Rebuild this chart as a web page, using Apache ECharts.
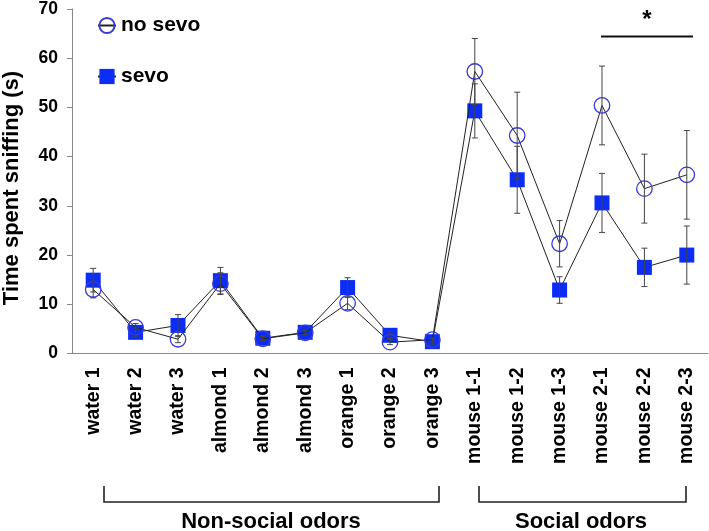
<!DOCTYPE html>
<html>
<head>
<meta charset="utf-8">
<script src="https://cdn.jsdelivr.net/npm/echarts@6/dist/echarts.min.js"></script>
<style>
html,body{margin:0;padding:0;background:#fff;}
#chart{width:709px;height:531px;}
</style>
</head>
<body>
<div id="chart"></div>
<script>
const categories = ['water 1','water 2','water 3','almond 1','almond 2','almond 3','orange 1','orange 2','orange 3','mouse 1-1','mouse 1-2','mouse 1-3','mouse 2-1','mouse 2-2','mouse 2-3'];
const noSevo    = [13.0, 5.3, 2.9, 14.2, 3.0, 4.2, 10.2, 2.3, 2.8, 57.3, 44.3, 22.3, 50.4, 33.5, 36.3];
const noSevoErr = [1.7, 0.8, 0.7, 2.2, 0.4, 0.4, 1.3, 0.5, 0.4, 6.7, 8.8, 4.7, 8.0, 7.0, 9.0];
const sevo      = [14.9, 4.3, 5.7, 14.8, 3.1, 4.3, 13.4, 3.7, 2.4, 49.3, 35.3, 12.9, 30.6, 17.5, 20.0];
const sevoErr   = [2.4, 0.9, 2.2, 2.7, 0.5, 0.5, 2.0, 0.7, 0.5, 5.5, 6.8, 2.7, 6.0, 3.9, 5.9];
const yTicks = [0, 10, 20, 30, 40, 50, 60, 70];

const FONT = '"Liberation Sans", Arial, Helvetica, sans-serif';

function errData(vals, errs) {
  return vals.map((v, i) => [i, v - errs[i], v + errs[i]]);
}
function errRender(params, api) {
  const i = api.value(0);
  const lo = api.coord([i, api.value(1)]);
  const hi = api.coord([i, api.value(2)]);
  const h = 3;
  const st = { stroke: '#444', lineWidth: 1 };
  return {
    type: 'group',
    children: [
      { type: 'line', shape: { x1: lo[0], y1: lo[1], x2: hi[0], y2: hi[1] }, style: st },
      { type: 'line', shape: { x1: hi[0] - h, y1: hi[1], x2: hi[0] + h, y2: hi[1] }, style: st },
      { type: 'line', shape: { x1: lo[0] - h, y1: lo[1], x2: lo[0] + h, y2: lo[1] }, style: st }
    ]
  };
}

const chart = echarts.init(document.getElementById('chart'), null, { renderer: 'canvas' });
chart.setOption({
  animation: false,
  backgroundColor: '#fff',
  textStyle: { fontFamily: FONT },
  grid: { left: 72, width: 636, top: 7, height: 346.5 },
  legend: {
    data: ['no sevo', 'sevo'],
    orient: 'vertical',
    left: 92, top: 10, padding: 5,
    itemWidth: 18, itemHeight: 19, itemGap: 30,
    textStyle: { fontSize: 21, fontWeight: 'bold', color: '#000', fontFamily: FONT, lineHeight: 21 }
  },
  xAxis: {
    type: 'category',
    data: categories,
    boundaryGap: true,
    axisLine: { lineStyle: { color: '#888', width: 1 } },
    axisTick: { alignWithLabel: true, length: 5, lineStyle: { color: '#888' } },
    axisLabel: { rotate: 90, margin: 14, fontSize: 19.5, fontWeight: 'bold', color: '#000', fontFamily: FONT, interval: 0 }
  },
  yAxis: {
    type: 'value',
    min: yTicks[0], max: yTicks[yTicks.length - 1], interval: 10,
    splitLine: { show: false },
    axisLine: { show: true, lineStyle: { color: '#888', width: 1 } },
    axisTick: { show: true, length: 5, lineStyle: { color: '#888' } },
    axisLabel: { margin: 14, fontSize: 17.5, fontWeight: 'bold', color: '#000', fontFamily: FONT }
  },
  series: [
    {
      name: 'sevo', type: 'line', data: sevo, z: 2,
      symbol: 'rect', symbolSize: 15,
      lineStyle: { color: '#222', width: 1 },
      itemStyle: { color: '#0b2df5' }
    },
    {
      name: 'no sevo', type: 'line', data: noSevo, z: 3,
      symbol: 'circle', symbolSize: 15.5,
      lineStyle: { color: '#222', width: 1 },
      itemStyle: { color: 'rgba(255,255,255,0)', borderColor: '#3a3ad8', borderWidth: 1.3 }
    },
    {
      type: 'custom', renderItem: errRender, data: errData(sevo, sevoErr), z: 4, silent: true
    },
    {
      type: 'custom', renderItem: errRender, data: errData(noSevo, noSevoErr), z: 4, silent: true
    }
  ],
  graphic: [
    { type: 'text', x: 12, y: 188, rotation: Math.PI / 2,
      style: { text: 'Time spent sniffing (s)', font: 'bold 22px ' + FONT, fill: '#000', align: 'center', verticalAlign: 'middle' } },
    { type: 'polyline', shape: { points: [[104, 486], [104, 502], [439, 502], [439, 486]] }, style: { stroke: '#222', lineWidth: 1.6, fill: null } },
    { type: 'polyline', shape: { points: [[479, 486], [479, 502], [686, 502], [686, 486]] }, style: { stroke: '#222', lineWidth: 1.6, fill: null } },
    { type: 'text', x: 271, y: 522, style: { text: 'Non-social odors', font: 'bold 22px ' + FONT, fill: '#000', align: 'center', verticalAlign: 'middle' } },
    { type: 'text', x: 581, y: 522, style: { text: 'Social odors', font: 'bold 22px ' + FONT, fill: '#000', align: 'center', verticalAlign: 'middle' } },
    { type: 'line', shape: { x1: 601, y1: 36.5, x2: 693, y2: 36.5 }, style: { stroke: '#111', lineWidth: 2 } },
    { type: 'text', x: 647, y: 20, style: { text: '*', font: 'bold 24px ' + FONT, fill: '#000', align: 'center', verticalAlign: 'middle' } }
  ]
});
</script>
</body>
</html>
